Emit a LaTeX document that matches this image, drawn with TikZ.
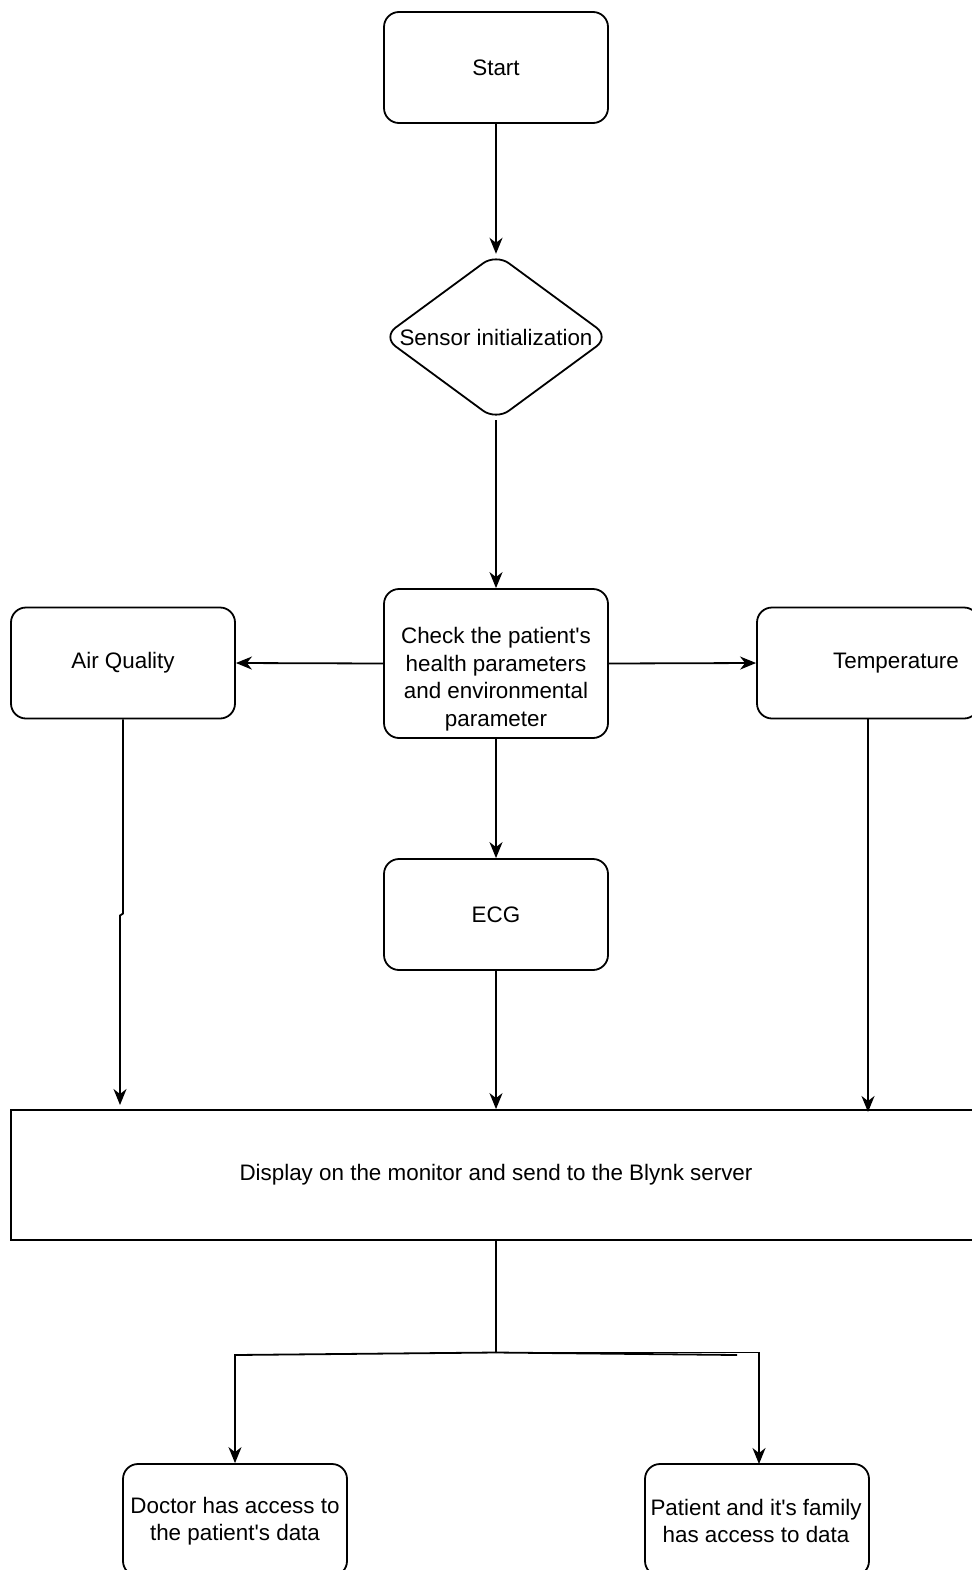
\documentclass[tikz,border=0pt]{standalone}
\usepackage{fontspec}
\setmainfont{Liberation Sans}
\usetikzlibrary{arrows.meta}
\newcommand{\aq}{\textquotesingle}
\begin{document}
\begin{tikzpicture}[x=1pt,y=-1pt,
  every node/.style={font=\fontsize{22.4}{27.5}\selectfont, align=center},
  rbox/.style={draw, line width=1.8pt, rounded corners=15pt, minimum width=224pt, minimum height=111pt, inner sep=0pt},
  sqbox/.style={draw, line width=1.8pt, inner sep=0pt},
  conn/.style={line width=1.8pt},
  arr/.style={conn, -{Stealth[length=16pt,width=13pt,inset=5pt]}}]
\useasboundingbox (0,0) rectangle (971,1570);
\fill[white] (0,0) rectangle (971,1570);

\node[rbox] (start) at (496,67.5) {Start};
\node[minimum width=226pt, minimum height=166pt, inner sep=0pt] (sensor) at (496,337) {Sensor initialization};
\draw[conn, rounded corners=16pt] (sensor.north) -- (sensor.east) -- (sensor.south) -- (sensor.west) -- cycle;

\node[rbox, minimum height=149pt] (check) at (496,663.5) {};
\node (checklbl) at (496,679) {Check the patient\aq s\\health parameters\\and environmental\\parameter};
\node[rbox] (air) at (123,663) {Air Quality};
\node[rbox, minimum width=222pt] (temp) at (868,663) {};
\node (templbl) at (896,663) {Temperature};
\node[rbox] (ecg) at (496,914.5) {ECG};
\node[sqbox, minimum width=970pt, minimum height=130pt] (disp) at (496,1175) {Display on the monitor and send to the Blynk server};
\node[rbox, minimum height=112pt] (doc) at (235,1520) {};
\node (doclbl) at (235,1521) {Doctor has access to\\the patient\aq s data};
\node[rbox, minimum height=112pt] (pat) at (757,1520) {};
\node (patlbl) at (756,1521) {Patient and it\aq s family\\has access to data};

\coordinate (aj1) at (123,913.5);
\coordinate (aj2) at (120,915.5);
\coordinate (aend) at (120,1110);
\coordinate (tend) at (868,1112);
\coordinate (split) at (496,1352.5);
\coordinate (lturn) at (235,1355);
\coordinate (rturn) at (759,1352.5);
\coordinate (rdup) at (737,1355);
\coordinate (rend) at (759,1464);

\draw[arr] (start.south) -- (sensor.north);
\draw[arr] (sensor.south) -- (check.north);
\draw[arr] (check.west) -- (air.east);
\draw[arr] (check.east) -- (temp.west);
\draw[arr] (check.south) -- (ecg.north);
\draw[arr] (ecg.south) -- (disp.north);
\draw[arr, shorten >=5pt] (air.south) -- (aj1) -- (aj2) -- (aend);
\draw[arr] (temp.south) -- (tend);
\draw[conn] (disp.south) -- (split);
\draw[arr] (split) -- (lturn) -- (doc.north);
\draw[arr] (split) -- (rturn) -- (rend);
\draw[conn] (split) -- (rdup);
\end{tikzpicture}
\end{document}
